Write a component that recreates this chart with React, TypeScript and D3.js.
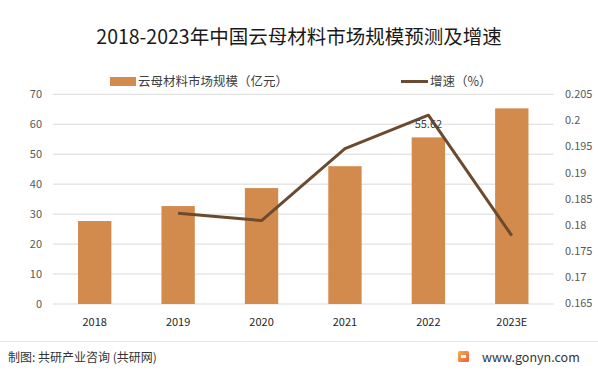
import React from "react";
import * as d3 from "d3";

const years = ["2018", "2019", "2020", "2021", "2022", "2023E"];
const marketSize = [27.7, 32.7, 38.7, 46.0, 55.62, 65.3];
const growthYears = ["2019", "2020", "2021", "2022", "2023E"];
const growthRate = [0.1822, 0.1808, 0.1946, 0.201, 0.1779];
const leftTicks = [0, 10, 20, 30, 40, 50, 60, 70];
const rightTicks = [0.165, 0.17, 0.175, 0.18, 0.185, 0.19, 0.195, 0.2, 0.205];
const labeledYear = "2022";

const W = 598;
const H = 373;
const FONT = "'Noto Sans CJK SC', 'Noto Sans', sans-serif";

export default function App() {
  const left = 53;
  const right = 553.5;
  const top = 94.3;
  const bottom = 304;

  const x = d3.scaleBand<string>().domain(years).range([left, right]).paddingInner(0.6).paddingOuter(0.3);
  const y = d3.scaleLinear().domain([0, 70]).range([bottom, top]);
  const y2 = d3.scaleLinear().domain([0.165, 0.205]).range([bottom - 1, top]);

  const line = d3
    .line<number>()
    .x((_, i) => (x(growthYears[i]) as number) + x.bandwidth() / 2)
    .y((d) => y2(d));

  const barColor = "#D38B4D";
  const lineColor = "#6B4A2F";

  return (
    <svg width={W} height={H} style={{ position: "absolute", left: 0, top: 0, background: "#fff" }} fontFamily={FONT}>
      <defs>
        <linearGradient id="logoGrad" x1="0" y1="0" x2="1" y2="1">
          <stop offset="0%" stopColor="#F7B24A" />
          <stop offset="100%" stopColor="#EE5A3C" />
        </linearGradient>
      </defs>
      <rect width={W} height={H} fill="#fff" />
      <text x={299} y={44} textAnchor="middle" fontSize={19.5} fill="#1a1a1a">
        2018-2023年中国云母材料市场规模预测及增速
      </text>

      {/* legend */}
      <rect x={110} y={77} width={26} height={9} fill={barColor} />
      <text x={138} y={86} fontSize={12.5} fill="#404040">云母材料市场规模（亿元）</text>
      <line x1={401} x2={428} y1={81.5} y2={81.5} stroke={lineColor} strokeWidth={3} />
      <text x={430} y={86} fontSize={12.5} fill="#404040">增速（%）</text>

      {/* grid */}
      {leftTicks.map((t) => (
        <line key={"g" + t} x1={left} x2={right} y1={y(t)} y2={y(t)} stroke="#d9d9d9" strokeWidth={1} />
      ))}
      {leftTicks.map((t) => (
        <text key={"l" + t} x={42} y={y(t) + 4} textAnchor="end" fontSize={11} fill="#595959">
          {t}
        </text>
      ))}
      {rightTicks.map((t) => (
        <text key={"r" + t} x={565} y={y2(t) + 4} textAnchor="start" fontSize={11} fill="#595959">
          {d3.format("")(+t.toFixed(3))}
        </text>
      ))}

      {/* bars */}
      {years.map((yr, i) => (
        <rect
          key={yr}
          x={x(yr)}
          y={y(marketSize[i])}
          width={x.bandwidth()}
          height={bottom - y(marketSize[i])}
          fill={barColor}
        />
      ))}

      {/* x labels */}
      {years.map((yr) => (
        <text key={"x" + yr} x={(x(yr) as number) + x.bandwidth() / 2} y={326} textAnchor="middle" fontSize={11} fill="#262626">
          {yr}
        </text>
      ))}

      {/* line */}
      <path d={line(growthRate) || ""} fill="none" stroke={lineColor} strokeWidth={3} strokeLinejoin="round" />

      {/* data label */}
      <text
        x={(x(labeledYear) as number) + x.bandwidth() / 2}
        y={128}
        textAnchor="middle"
        fontSize={11}
        fill="#404040"
      >
        {marketSize[years.indexOf(labeledYear)]}
      </text>

      {/* footer */}
      <line x1={0} x2={W} y1={341.5} y2={341.5} stroke="#e6e6e6" strokeWidth={1} />
      <text x={8} y={362} fontSize={12} fill="#333">制图: 共研产业咨询 (共研网)</text>
      <rect x={458} y={351} width={11} height={11} rx={1.5} fill="url(#logoGrad)" />
      <rect x={461} y={355} width={5} height={3} fill="#fff" />
      <text x={482} y={362} fontSize={12.5} fill="#333">www.gonyn.com</text>
    </svg>
  );
}
